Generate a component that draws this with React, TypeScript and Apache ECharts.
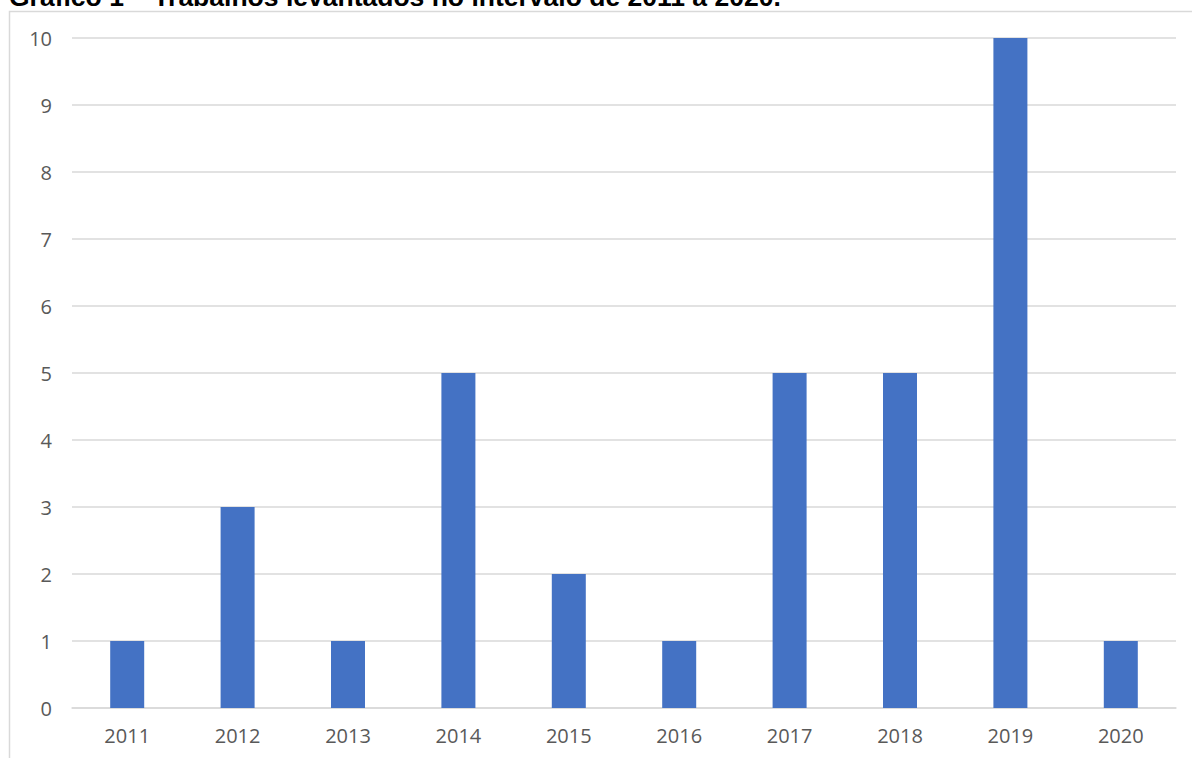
import React, { useEffect, useRef } from "react";
import * as echarts from "echarts";

// Publications found per year
const years = ["2011", "2012", "2013", "2014", "2015", "2016", "2017", "2018", "2019", "2020"];
const counts = [1, 3, 1, 5, 2, 1, 5, 5, 10, 1];
const yTicks = { min: 0, max: 10, interval: 1 };
const titleText = "Gráfico 1 – Trabalhos levantados no intervalo de 2011 a 2020.";

export default function App() {
  const ref = useRef<HTMLDivElement>(null);

  useEffect(() => {
    if (!ref.current) return;
    const chart = echarts.init(ref.current, undefined, { renderer: "svg" });
    chart.setOption({
      animation: false,
      backgroundColor: "#ffffff",
      graphic: [
        {
          type: "rect",
          shape: { x: 9.5, y: 11.5, width: 1300, height: 900 },
          style: { fill: "none", stroke: "#d9d9d9", lineWidth: 1.5 },
          silent: true,
        },
        {
          type: "text",
          x: 9,
          y: 10,
          style: {
            text: titleText,
            font: "bold 26.5px 'Liberation Sans', Arial, sans-serif",
            fill: "#000000",
            textVerticalAlign: "bottom",
          },
          silent: true,
        },
      ],
      grid: { left: 72, right: 16, top: 38, bottom: 50, containLabel: false },
      xAxis: {
        type: "category",
        data: years,
        axisLine: { show: true, lineStyle: { color: "#d9d9d9", width: 1.5 } },
        axisTick: { show: false },
        axisLabel: {
          color: "#595959",
          fontFamily: "'Open Sans', sans-serif",
          fontSize: 20,
          margin: 17,
        },
      },
      yAxis: {
        type: "value",
        min: yTicks.min,
        max: yTicks.max,
        interval: yTicks.interval,
        axisLine: { show: false },
        axisTick: { show: false },
        splitLine: { lineStyle: { color: "#d9d9d9", width: 1.5 } },
        axisLabel: {
          color: "#595959",
          fontFamily: "'Open Sans', sans-serif",
          fontSize: 20,
          margin: 20,
        },
      },
      series: [
        {
          type: "bar",
          data: counts,
          barWidth: 34,
          itemStyle: { color: "#4472C4" },
        },
      ],
    });
    return () => chart.dispose();
  }, []);

  return (
    <div
      ref={ref}
      style={{ position: "fixed", left: 0, top: 0, width: 1192, height: 758 }}
    />
  );
}
